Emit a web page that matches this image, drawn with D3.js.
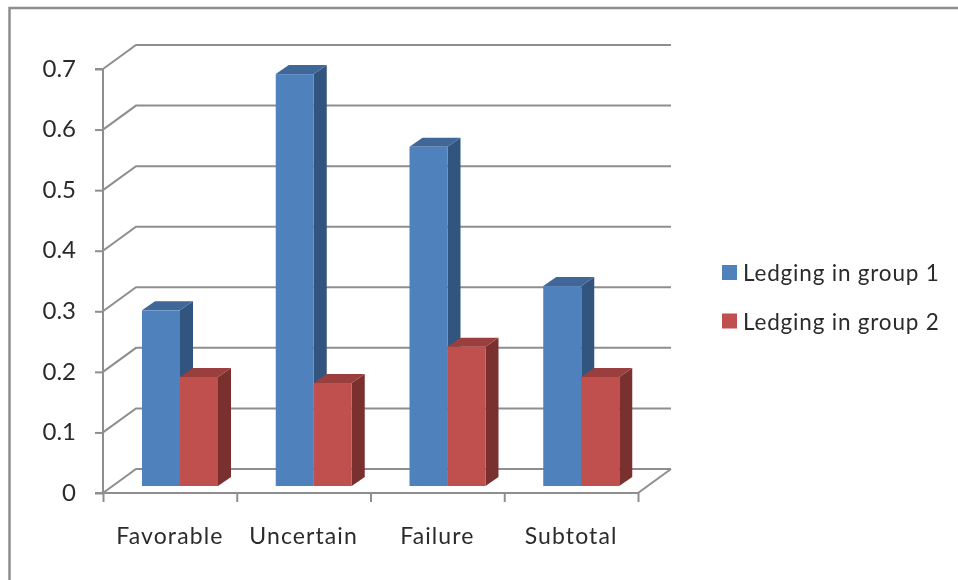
<!DOCTYPE html>
<html>
<head>
<meta charset="utf-8">
<script src="https://cdn.jsdelivr.net/npm/d3@7"></script>
<style>
    html, body { margin: 0; padding: 0; background: #fff; }
    svg { display: block; }
    text { font-family: Lato, sans-serif; fill: #2b2b2b; }
    #plot { filter: blur(0.45px); }
</style>
</head>
<body>
<svg id="chart" width="958" height="580"><g id="plot"></g></svg>
<script>
const categories = ["Favorable", "Uncertain", "Failure", "Subtotal"];
const seriesNames = ["Ledging in group 1", "Ledging in group 2"];
const group1 = [0.29, 0.68, 0.56, 0.33];
const group2 = [0.18, 0.17, 0.23, 0.18];
const yTicks = [0, 0.1, 0.2, 0.3, 0.4, 0.5, 0.6, 0.7];

const front = "#4f81bd", side = "#31557f", topFace = "#3f6797";
const front2 = "#c0504d", side2 = "#7a302e", topFace2 = "#9a3f3d";
const lineColor = "#8e8e8e";

let svg = d3.select("#plot");

// frame only shows on the top and left, the rest is cropped away
svg.append("path")
    .attr("d", "M9.5,580V8H958")
    .attr("fill", "none")
    .attr("stroke", lineColor)
    .attr("stroke-width", 2.5);

let x = d3.scaleBand().domain(categories).range([103, 638]);
let y = d3.scaleLinear().domain([0, 0.7]).range([493, 69]);
let series = d3.scaleBand().domain(seriesNames).range([39, 115]);

// depth of the back wall and of the bars
const wallX = 33, wallY = 24;
const barX = 13, barY = 9;
const barLift = 7;

let grid = svg.append("g").attr("stroke", lineColor).attr("stroke-width", 2).attr("fill", "none");
grid.selectAll("path")
    .data(yTicks)
    .join("path")
    .attr("d", d => `M${x.range()[0]},${y(d)}l${wallX},${-wallY}H${x.range()[1] + wallX}`);
// right edge of the floor
grid.append("path")
    .attr("d", `M${x.range()[1]},${y(0)}l${wallX},${-wallY}`);

let axisLeft = svg.append("g")
    .attr("transform", `translate(${x.range()[0]},0)`)
    .call(d3.axisLeft(y).tickValues(yTicks).tickSize(8).tickPadding(19).tickFormat(d3.format(".1~f")));

let boundaries = d3.scaleLinear().domain([0, categories.length]).range(x.range());
let axisBottom = svg.append("g")
    .attr("transform", `translate(0,${y(0)})`)
    .call(d3.axisBottom(boundaries).tickValues(d3.range(categories.length + 1)).tickSize(9).tickFormat(""));

[axisLeft, axisBottom].forEach(a => {
    a.selectAll("path.domain, line").attr("stroke", lineColor).attr("stroke-width", 2);
});
axisLeft.select("path.domain").attr("d", `M-8,${y(0.7)}H0V${y(0)}H-8`);
axisLeft.selectAll("text").attr("font-size", 24).attr("font-family", null).attr("dy", "0.3em");
axisBottom.select("path.domain").attr("d", `M${x.range()[0]},0H${x.range()[1]}`);

let rows = categories.map((c, i) => ({c: c, values: [group1[i], group2[i]]}));

let bars = svg.append("g").selectAll("g")
    .data(rows)
    .join("g")
    .attr("transform", d => `translate(${x(d.c)},${-barLift})`);

let barW = series.bandwidth();
seriesNames.forEach((name, s) => {
    let cols = s === 0 ? [front, side, topFace] : [front2, side2, topFace2];
    let bar = bars.append("g").attr("transform", `translate(${series(name)},0)`);
    // side
    bar.append("path")
        .attr("fill", cols[1])
        .attr("d", d => `M${barW},${y(d.values[s])}l${barX},${-barY}V${y(0) - barY}l${-barX},${barY}Z`);
    // top
    bar.append("path")
        .attr("fill", cols[2])
        .attr("d", d => `M0,${y(d.values[s])}l${barX},${-barY}h${barW}l${-barX},${barY}Z`);
    // front
    bar.append("rect")
        .attr("fill", cols[0])
        .attr("y", d => y(d.values[s]))
        .attr("width", barW)
        .attr("height", d => y(0) - y(d.values[s]));
});

svg.append("g").selectAll("text")
    .data(categories)
    .join("text")
    .attr("x", d => x(d) + x.bandwidth() / 2)
    .attr("y", 544)
    .attr("text-anchor", "middle")
    .attr("font-size", 23)
    .attr("letter-spacing", 1.1)
    .text(d => d);

let legend = svg.append("g").selectAll("g")
    .data(seriesNames)
    .join("g")
    .attr("transform", (d, i) => `translate(722,${265 + i * 48.5})`);
legend.append("rect")
    .attr("width", 15)
    .attr("height", 15)
    .attr("fill", (d, i) => i === 0 ? front : front2);
legend.append("text")
    .attr("x", 21)
    .attr("y", 16)
    .attr("font-size", 22.5)
    .attr("letter-spacing", 0.8)
    .text(d => d);
</script>
</body>
</html>
